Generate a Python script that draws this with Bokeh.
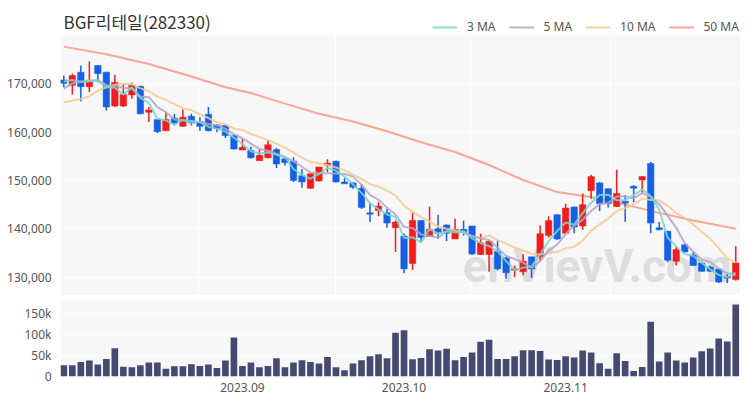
import pandas as pd
from bokeh.plotting import figure
from bokeh.models import (Range1d, FixedTicker, NumeralTickFormatter, Legend,
                          LegendItem, ColumnDataSource, BoxAnnotation, Label)
from bokeh.layouts import column
from bokeh.embed import file_html
from bokeh.resources import INLINE
from bokeh.core.properties import value

title_text = "BGF리테일(282330)"

opens = [170800, 169700, 172400, 169400, 173800, 172400, 165400, 165400, 167700, 169500,
         164100, 162600, 160300, 162900, 161200, 163300, 162200, 163700, 161500, 161400,
         159300, 156300, 156200, 154100, 154700, 156400, 154500, 154000, 151000, 148400,
         149900, 153100, 154000, 149700, 149500, 148400, 143300, 143800, 143300, 140200,
         138500, 132800, 141700, 138400, 140000, 140800, 137900, 139900, 140600, 134700,
         134700, 135300, 134000, 131400, 131100, 134200, 134200, 138600, 142900, 139100,
         144500, 140600, 147900, 149500, 148300, 144600, 145700, 148800, 150100, 153500,
         140200, 139500, 133300, 136700, 134600, 132900, 132100, 131700, 130200, 129500]
highs = [171700, 172100, 173800, 174600, 173900, 172500, 171900, 170000, 170200, 169600,
         165200, 162600, 164000, 163800, 164700, 163800, 163100, 165200, 161700, 161600,
         159400, 158600, 157000, 156500, 158300, 156700, 154800, 154800, 152400, 151500,
         152800, 154400, 154100, 150500, 149700, 149200, 145300, 145500, 144100, 141700,
         139100, 143300, 141800, 144600, 142900, 140900, 142100, 141700, 140600, 139000,
         137600, 137600, 134100, 132400, 134800, 134200, 140700, 142600, 143000, 145200,
         144600, 147300, 151200, 149700, 148300, 152200, 147000, 149000, 150900, 153800,
         141400, 139600, 136400, 136900, 135200, 133100, 132400, 131800, 130700, 136400]
lows = [169300, 167800, 166400, 168300, 170300, 164500, 165200, 165200, 166900, 163700,
        162100, 159800, 160300, 161400, 161100, 161400, 160300, 160200, 160000, 158800,
        156400, 156300, 154500, 154100, 154600, 152600, 153100, 149700, 148500, 148300,
        149800, 151700, 149600, 149300, 148300, 144100, 141400, 142600, 140200, 135200,
        130800, 131500, 137400, 138300, 137900, 137500, 137900, 138600, 134600, 134600,
        131100, 131400, 129700, 130000, 130400, 129800, 133300, 138200, 137700, 139000,
        139100, 139800, 146200, 143700, 144400, 144500, 141400, 145500, 147400, 139100,
        139700, 133100, 132400, 135100, 132300, 131100, 131100, 128800, 128800, 129300]
closes = [170100, 171700, 169400, 170500, 172100, 165200, 170300, 167800, 169700, 163800,
          164600, 160100, 162600, 161900, 163100, 161900, 161200, 160300, 160700, 159300,
          156500, 156900, 154700, 155200, 157400, 153400, 153700, 150000, 149700, 151400,
          152800, 153600, 149700, 149300, 148600, 144400, 143000, 144700, 141200, 141400,
          131700, 141700, 138200, 139900, 139100, 139100, 139900, 139300, 134800, 137100,
          137400, 131700, 130900, 131700, 133300, 131700, 139000, 141700, 137900, 144300,
          140400, 145000, 150800, 145200, 145200, 147300, 145300, 148400, 150800, 141200,
          139800, 133500, 135700, 135200, 132400, 131200, 131200, 129000, 129800, 132900]
volumes = [26700, 26700, 34700, 37900, 28300, 41800, 67300, 23500, 21900, 26700,
           33100, 33100, 18700, 24300, 24300, 29100, 25100, 28300, 20300, 37900,
           92900, 25100, 33100, 21900, 25100, 43400, 21900, 33100, 38700, 34700,
           30700, 46600, 21900, 14700, 30700, 38700, 48200, 53000, 43400, 104000,
           110400, 41000, 44200, 65000, 61800, 65800, 38700, 46600, 57000, 82500,
           87300, 41800, 41800, 48200, 62600, 62600, 61000, 40200, 39500, 48200,
           45000, 61800, 57000, 31500, 18700, 55400, 37100, 13200, 22700, 130300,
           35500, 57000, 37900, 33100, 45000, 60200, 66500, 90500, 83300, 171300]

ma3_head = [170500, 170800]
ma5_head = [169000, 170100, 170500, 170700]
ma10_head = [166200, 166500, 166900, 167400, 168600, 169300, 169800, 170000, 169900]
ma50_idx = [0, 5, 10, 15, 19, 22, 26, 30, 34, 38, 42, 46, 50, 54, 58, 62, 66, 70, 74, 79]
ma50_val = [177700, 176100, 174100, 171500, 169300, 168100, 165900, 163800, 162200, 160200,
            157900, 155900, 153200, 150100, 147600, 146600, 145000, 143300, 141700, 140000]

price_ticks = [130000, 140000, 150000, 160000, 170000]
vol_ticks = [0, 50000, 100000, 150000]
vol_labels = ["0", "50k", "100k", "150k"]
month_idx = [21, 40, 59]
month_labels = ["2023.09", "2023.10", "2023.11"]
vgrid_idx = [15.84, 31.95, 47.82, 64.28]

n = len(closes)
idx = list(range(n))
cl = pd.Series(closes, dtype=float)
ma3 = cl.rolling(3).mean().tolist()
ma5 = cl.rolling(5).mean().tolist()
ma10 = cl.rolling(10).mean().tolist()
ma3[:len(ma3_head)] = ma3_head
ma5[:len(ma5_head)] = ma5_head
ma10[:len(ma10_head)] = ma10_head

RED = "#f21c1c"
BLUE = "#1560e6"
colors = [RED if c >= o else BLUE for o, c in zip(opens, closes)]
src = ColumnDataSource(dict(
    x=idx, o=opens, h=highs, l=lows, c=closes, v=volumes,
    top=[max(o, c) for o, c in zip(opens, closes)],
    bot=[min(o, c) for o, c in zip(opens, closes)],
    color=colors, ma3=ma3, ma5=ma5, ma10=ma10))

XR = (-0.39, 79.56)
BG = "#f7f7f7"
FONT = "Noto Sans"
LBL = "#555555"
P_LO, P_HI = 126200, 180000
PX = (P_HI - P_LO) / 260.0          # price units per pixel of the grey panel
P_TOP = P_HI + 27 * PX              # frame extends over the title row

p1 = figure(frame_width=680, frame_height=287, x_range=Range1d(*XR),
            y_range=Range1d(P_LO, P_TOP), output_backend="svg",
            toolbar_location=None, min_border_left=60, min_border_right=2,
            min_border_top=8, min_border_bottom=0, background_fill_color="white",
            border_fill_color="white", outline_line_color=None)
p1.xaxis.visible = False
p1.xgrid.visible = False
p1.ygrid.visible = False
p1.add_layout(BoxAnnotation(bottom=P_LO, top=P_HI, fill_color=BG, fill_alpha=1,
                            line_color=None, level="underlay"))
p1.yaxis.ticker = FixedTicker(ticks=price_ticks)
p1.yaxis.formatter = NumeralTickFormatter(format="0,0")
for ax in p1.yaxis:
    ax.axis_line_color = None
    ax.major_tick_line_color = None
    ax.minor_tick_line_color = None
    ax.major_label_text_font = FONT
    ax.major_label_text_font_size = "12px"
    ax.major_label_text_color = LBL
    ax.major_label_standoff = 3

# white grid lines on the grey panel
p1.hspan(y=price_ticks, line_color="white", line_width=1)
p1.vspan(x=vgrid_idx, line_color="white", line_width=1)

# watermark
p1.text(x=[46.9], y=[132300], text=["enVievV.com"], text_font=value("Roboto"),
        text_font_size="46px", text_font_style="bold", text_color="#d6d6d6",
        text_alpha=0.8, text_baseline="middle", text_align="left")

r50 = p1.line(ma50_idx, ma50_val, line_color="#f49e8c", line_width=2, line_alpha=0.9)
p1.segment(x0="x", y0="h", x1="x", y1="l", color="color", line_width=1.5, source=src)
p1.vbar(x="x", width=0.76, top="top", bottom="bot", fill_color="color",
        line_color="color", line_width=0.5, source=src)
r10 = p1.line("x", "ma10", line_color="#f3c991", line_width=2, line_alpha=0.85, source=src)
r5 = p1.line("x", "ma5", line_color="#b4a5c8", line_width=2, line_alpha=0.85, source=src)
r3 = p1.line("x", "ma3", line_color="#79d6cb", line_width=2, line_alpha=0.85, source=src)

p1.add_layout(Label(x=-0.04, y=P_HI + 14 * PX, text=title_text,
                    text_font="Noto Sans CJK KR", text_font_size="17px",
                    text_color="#333333", text_baseline="middle", text_align="left"))

legend = Legend(items=[LegendItem(label="3 MA", renderers=[r3]),
                       LegendItem(label="5 MA", renderers=[r5]),
                       LegendItem(label="10 MA", renderers=[r10]),
                       LegendItem(label="50 MA", renderers=[r50])],
                orientation="horizontal", location=(372, 260),
                background_fill_alpha=0, border_line_color=None, padding=0,
                margin=0, spacing=13, glyph_width=25, glyph_height=12,
                label_standoff=10, label_text_font=FONT,
                label_text_font_size="12px", label_text_color=LBL)
p1.add_layout(legend)

p2 = figure(frame_width=680, frame_height=76, x_range=Range1d(*XR),
            y_range=Range1d(0, 181000), output_backend="svg",
            toolbar_location=None, min_border_left=60, min_border_right=2,
            min_border_top=5, min_border_bottom=20, background_fill_color=BG,
            border_fill_color="white", outline_line_color=None)
p2.vbar(x="x", width=0.78, top="v", bottom=0, fill_color="#474a70",
        line_color=None, source=src)
p2.xgrid.visible = False
p2.ygrid.grid_line_color = "white"
p2.ygrid.grid_line_width = 1
p2.xaxis.ticker = FixedTicker(ticks=month_idx)
p2.xaxis.major_label_overrides = {i: s for i, s in zip(month_idx, month_labels)}
p2.yaxis.ticker = FixedTicker(ticks=vol_ticks)
p2.yaxis.major_label_overrides = {t: s for t, s in zip(vol_ticks, vol_labels)}
for ax in list(p2.xaxis) + list(p2.yaxis):
    ax.axis_line_color = None
    ax.major_tick_line_color = None
    ax.minor_tick_line_color = None
    ax.major_label_text_font = FONT
    ax.major_label_text_font_size = "12px"
    ax.major_label_text_color = LBL
    ax.major_label_standoff = 3
p2.xaxis.major_label_standoff = 0

layout = column(p1, p2, spacing=0)
open("out.html", "w").write(file_html(layout, INLINE))
